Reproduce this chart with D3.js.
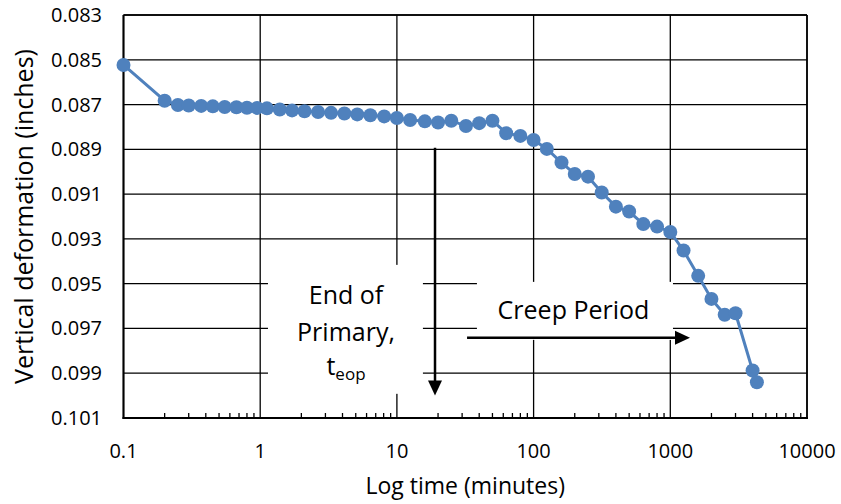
<!DOCTYPE html>
<html>
<head>
<meta charset="utf-8">
<script src="https://cdn.jsdelivr.net/npm/d3@7"></script>
<style>
  html, body { margin: 0; padding: 0; background: #fff; }
  svg { display: block; }
  text { font-family: "Open Sans", sans-serif; fill: #000; }
</style>
</head>
<body>
<svg id="chart" width="841" height="504"></svg>
<script>
// ---- data ----
const times = [0.1, 0.2, 0.25, 0.3, 0.37, 0.45, 0.55, 0.67, 0.8, 0.95,
  1.12, 1.39, 1.71, 2.11, 2.65, 3.3, 4.13, 5.13, 6.39, 8.07,
  10, 12.5, 16, 20, 25, 32, 40, 50, 63, 80,
  100, 125, 160, 200, 250, 315, 400, 500, 635, 800,
  1000, 1250, 1600, 2000, 2500, 3000, 4000, 4300];
const deformation = [0.08523, 0.08683, 0.08702, 0.08704, 0.08706, 0.08708, 0.08711, 0.08712, 0.08714, 0.08715,
  0.08717, 0.08722, 0.08726, 0.08730, 0.08733, 0.08737, 0.08740, 0.08744, 0.08748, 0.08753,
  0.08760, 0.08769, 0.08775, 0.08780, 0.08772, 0.08796, 0.08783, 0.08772, 0.08828, 0.08840,
  0.08858, 0.08898, 0.08959, 0.09010, 0.09022, 0.09093, 0.09156, 0.09178, 0.09234, 0.09245,
  0.09269, 0.09352, 0.09465, 0.09568, 0.09639, 0.09632, 0.09888, 0.09940];
const yTicks = [0.083, 0.085, 0.087, 0.089, 0.091, 0.093, 0.095, 0.097, 0.099, 0.101];
const xTicks = [0.1, 1, 10, 100, 1000, 10000];
const xTickLabels = ["0.1", "1", "10", "100", "1000", "10000"];
const xTitle = "Log time (minutes)";
const yTitle = "Vertical deformation (inches)";
const eopLines = ["End of", "Primary,"];
const eopSymbol = "t";
const eopSub = "eop";
const creepLabel = "Creep Period";
const eopTime = 19;
const creepStart = 32.6, creepEnd = 1393, creepLevel = 0.09742;

// ---- layout ----
const L = 123.5, R = 807, T = 15, B = 418;
const svg = d3.select("#chart");
const x = d3.scaleLog().domain([0.1, 10000]).range([L, R]);
const y = d3.scaleLinear().domain([0.083, 0.101]).range([T, B]);

// horizontal gridlines
svg.append("g").selectAll("line").data(yTicks).join("line")
  .attr("x1", L).attr("x2", R)
  .attr("y1", d => y(d)).attr("y2", d => y(d))
  .attr("stroke", "#000").attr("stroke-width", 1.3);
// vertical gridlines
svg.append("g").selectAll("line").data(xTicks).join("line")
  .attr("x1", d => x(d)).attr("x2", d => x(d))
  .attr("y1", T).attr("y2", B)
  .attr("stroke", "#000").attr("stroke-width", 1.3);

// minor ticks
const minor = [];
for (let e = -1; e < 4; e++) for (let k = 2; k <= 9; k++) minor.push(k * Math.pow(10, e));
svg.append("g").selectAll("line").data(minor).join("line")
  .attr("x1", d => x(d)).attr("x2", d => x(d))
  .attr("y1", B - 5).attr("y2", B)
  .attr("stroke", "#000").attr("stroke-width", 1.3);

// annotation boxes (white) covering grid
svg.append("rect")
  .attr("x", x(1.14)).attr("y", y(0.09416))
  .attr("width", x(15.5) - x(1.14)).attr("height", y(0.09992) - y(0.09416))
  .attr("fill", "#fff");
svg.append("rect")
  .attr("x", x(38.5)).attr("y", y(0.09492))
  .attr("width", x(1046) - x(38.5)).attr("height", y(0.09751) - y(0.09492))
  .attr("fill", "#fff");

// axes frame
svg.append("line").attr("x1", L).attr("x2", L).attr("y1", T).attr("y2", B + 1)
  .attr("stroke", "#000").attr("stroke-width", 2);
svg.append("line").attr("x1", L - 1).attr("x2", R + 1).attr("y1", B).attr("y2", B)
  .attr("stroke", "#000").attr("stroke-width", 2);
svg.append("line").attr("x1", R).attr("x2", R).attr("y1", T).attr("y2", B)
  .attr("stroke", "#000").attr("stroke-width", 1.6);
svg.append("line").attr("x1", L).attr("x2", R).attr("y1", T).attr("y2", T)
  .attr("stroke", "#000").attr("stroke-width", 1.6);

// data
const pts = times.map((t, i) => [t, deformation[i]]);
svg.append("path").datum(pts)
  .attr("d", d3.line().x(d => x(d[0])).y(d => y(d[1])))
  .attr("fill", "none").attr("stroke", "#4f81bd").attr("stroke-width", 3);
svg.append("g").selectAll("circle").data(pts).join("circle")
  .attr("cx", d => x(d[0])).attr("cy", d => y(d[1])).attr("r", 7)
  .attr("fill", "#4f81bd");

// tick labels
svg.append("g").selectAll("text").data(yTicks).join("text")
  .attr("x", 102).attr("y", d => y(d)).attr("dy", "0.35em")
  .attr("text-anchor", "end").style("font-size", "20px")
  .text(d => d3.format(".3f")(d));
svg.append("g").selectAll("text").data(xTicks).join("text")
  .attr("x", d => x(d)).attr("y", 458)
  .attr("text-anchor", "middle").style("font-size", "20px")
  .text((d, i) => xTickLabels[i]);

// titles
svg.append("text").attr("x", (L + R) / 2).attr("y", 494)
  .attr("text-anchor", "middle").style("font-size", "23px").text(xTitle);
svg.append("text").attr("transform", `translate(33,${(T + B) / 2}) rotate(-90)`)
  .attr("text-anchor", "middle").style("font-size", "25px").text(yTitle);

// annotations
const cx1 = 346;
svg.append("text").attr("x", cx1).attr("y", 304).attr("text-anchor", "middle")
  .style("font-size", "25px").text(eopLines[0]);
svg.append("text").attr("x", cx1).attr("y", 341).attr("text-anchor", "middle")
  .style("font-size", "25px").text(eopLines[1]);
const tEl = svg.append("text").attr("x", cx1).attr("y", 375).attr("text-anchor", "middle")
  .style("font-size", "25px");
tEl.append("tspan").text(eopSymbol);
tEl.append("tspan").attr("dy", 5).style("font-size", "17px").text(eopSub);

svg.append("text").attr("x", 573.5).attr("y", 319).attr("text-anchor", "middle")
  .style("font-size", "25px").text(creepLabel);

// arrows
const ax = x(eopTime), ay1 = y(0.08893), ay2 = y(0.1000);
svg.append("line").attr("x1", ax).attr("x2", ax).attr("y1", ay1).attr("y2", ay2 - 12)
  .attr("stroke", "#000").attr("stroke-width", 2.5);
svg.append("path")
  .attr("d", `M${ax - 7},${ay2 - 15} L${ax + 7},${ay2 - 15} L${ax},${ay2} Z`)
  .attr("fill", "#000");
const hy = y(creepLevel), hx1 = x(creepStart), hx2 = x(creepEnd);
svg.append("line").attr("x1", hx1).attr("x2", hx2 - 12).attr("y1", hy).attr("y2", hy)
  .attr("stroke", "#000").attr("stroke-width", 2.5);
svg.append("path")
  .attr("d", `M${hx2 - 15},${hy - 7} L${hx2 - 15},${hy + 7} L${hx2},${hy} Z`)
  .attr("fill", "#000");
</script>
</body>
</html>
